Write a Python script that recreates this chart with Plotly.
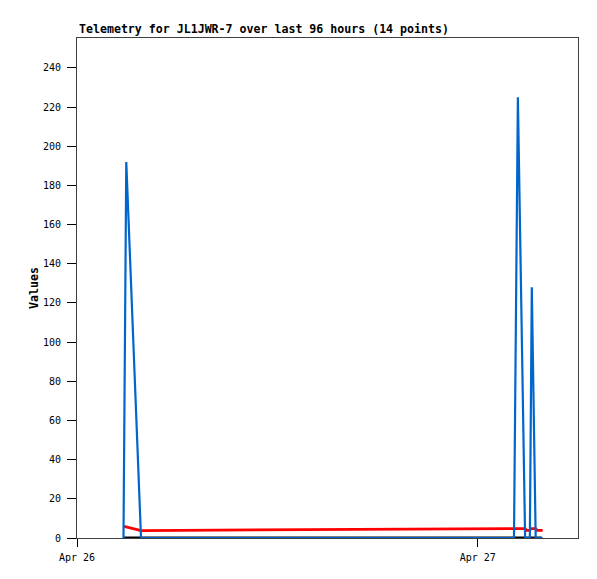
import plotly.graph_objects as go

# Blue series (values)
blue_times = ["2024-04-26 02:47", "2024-04-26 02:57", "2024-04-26 03:50",
              "2024-04-27 02:10", "2024-04-27 02:24", "2024-04-27 02:50",
              "2024-04-27 03:07", "2024-04-27 03:14", "2024-04-27 03:28",
              "2024-04-27 03:53"]
blue_values = [0, 192, 0, 0, 225, 0, 0, 128, 0, 0]

# Red series
red_times = ["2024-04-26 02:49", "2024-04-26 03:50", "2024-04-27 02:10",
             "2024-04-27 02:50", "2024-04-27 02:56", "2024-04-27 03:07",
             "2024-04-27 03:10", "2024-04-27 03:28", "2024-04-27 03:33",
             "2024-04-27 03:53"]
red_values = [5.9, 3.8, 4.8, 4.8, 3.9, 3.9, 4.8, 4.8, 3.9, 3.9]

# Black series (zeros)
black_times = ["2024-04-26 02:49", "2024-04-27 03:50"]
black_values = [0, 0]

y_ticks = list(range(0, 241, 20))
x_tickvals = ["2024-04-26 00:00", "2024-04-27 00:00"]
x_ticktext = ["Apr 26", "Apr 27"]

fig = go.Figure()
fig.add_trace(go.Scatter(x=black_times, y=black_values, mode="lines",
                         line=dict(color="#000000", width=3), showlegend=False,
                         cliponaxis=False))
fig.add_trace(go.Scatter(x=red_times, y=red_values, mode="lines",
                         line=dict(color="#ff0000", width=2.8), showlegend=False))
fig.add_trace(go.Scatter(x=blue_times, y=blue_values, mode="lines",
                         line=dict(color="#0066cc", width=2.2), showlegend=False))

tickfont = dict(family="DejaVu Sans Mono", size=10, color="#000000")
fig.update_layout(
    width=597, height=579,
    margin=dict(l=77, r=19, t=38, b=41),
    paper_bgcolor="white", plot_bgcolor="white",
    xaxis=dict(type="date", range=["2024-04-26 00:00", "2024-04-27 06:00"],
               tickvals=x_tickvals, ticktext=x_ticktext, ticks="outside",
               ticklen=8, tickcolor="#000000", showgrid=False, zeroline=False,
               showline=True, linecolor="#404040", linewidth=1, mirror=True,
               tickfont=tickfont, ticklabelstandoff=2),
    yaxis=dict(range=[0, 255.3], tickvals=y_ticks, ticks="outside",
               ticklen=9, tickcolor="#000000", showgrid=False, zeroline=False,
               showline=True, linecolor="#404040", linewidth=1, mirror=True,
               tickfont=tickfont, ticklabelstandoff=4),
    annotations=[
        dict(text="<b>Telemetry for JL1JWR-7 over last 96 hours (14 points)</b>",
             xref="paper", yref="paper", x=0, y=1, xanchor="left", yanchor="bottom",
             yshift=0, showarrow=False,
             font=dict(family="DejaVu Sans Mono", size=11.6, color="#000000")),
        dict(text="<b>Values</b>", xref="paper", yref="paper", x=0, y=0.5,
             xanchor="center", yanchor="middle", xshift=-43, textangle=-90,
             showarrow=False,
             font=dict(family="DejaVu Sans Mono", size=11.6, color="#000000")),
    ],
)

fig.write_html("out.html", config={"displayModeBar": False},
               post_script="document.body.style.margin='0';document.body.style.overflow='hidden';")
